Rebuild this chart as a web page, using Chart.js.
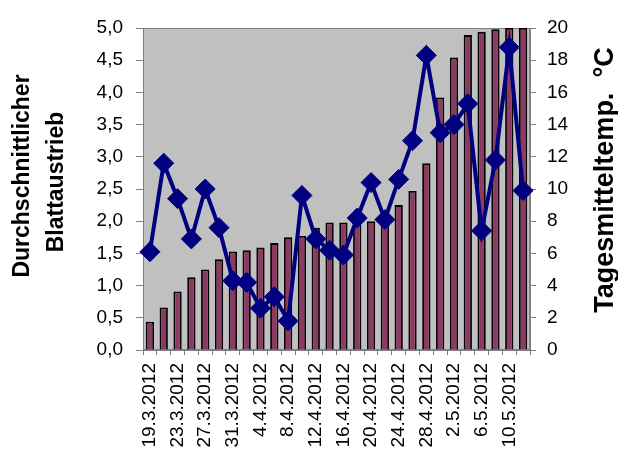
<!DOCTYPE html>
<html>
<head>
<meta charset="utf-8">
<script src="https://cdn.jsdelivr.net/npm/chart.js@4.4.1/dist/chart.umd.min.js"></script>
<style>
  html, body { margin: 0; padding: 0; background: #fff; }
</style>
</head>
<body>
<canvas id="chart" width="618" height="459"></canvas>
<script>
// categories: every second day
const dates = [
  "19.3.2012", "21.3.2012", "23.3.2012", "25.3.2012", "27.3.2012", "29.3.2012", "31.3.2012",
  "2.4.2012", "4.4.2012", "6.4.2012", "8.4.2012", "10.4.2012", "12.4.2012", "14.4.2012",
  "16.4.2012", "18.4.2012", "20.4.2012", "22.4.2012", "24.4.2012", "26.4.2012", "28.4.2012",
  "30.4.2012", "2.5.2012", "4.5.2012", "6.5.2012", "8.5.2012", "10.5.2012", "12.5.2012"
];

// average leaf sprouting (left axis)
const blattaustrieb = [
  0.44, 0.66, 0.91, 1.13, 1.25, 1.41, 1.53,
  1.55, 1.59, 1.66, 1.75, 1.77, 1.90, 1.98,
  1.98, 1.98, 2.00, 2.05, 2.25, 2.47, 2.90,
  3.92, 4.54, 4.89, 4.94, 4.98, 5.00, 5.00
];

// daily mean temperature in °C (right axis)
const tagesmitteltemp = [
  6.1, 11.6, 9.4, 6.9, 10.0, 7.6, 4.3,
  4.2, 2.6, 3.3, 1.8, 9.6, 6.9, 6.2,
  5.9, 8.2, 10.4, 8.1, 10.6, 13.0, 18.3,
  13.5, 14.0, 15.3, 7.4, 11.8, 18.8, 9.9
];

const leftTitle = ["Durchschnittlicher", "Blattaustrieb"];
const rightTitle = "Tagesmitteltemp.  °C";

const fontFamily = "Arial, 'Liberation Sans', sans-serif";
const tickFont = { family: fontFamily, size: 19 };

// gray plot area with a thin frame
const plotBg = {
  id: "plotBg",
  beforeDraw(chart) {
    const { ctx, chartArea: a } = chart;
    ctx.save();
    ctx.fillStyle = "#c0c0c0";
    ctx.fillRect(a.left, a.top, a.width, a.height);
    ctx.strokeStyle = "#808080";
    ctx.lineWidth = 1;
    ctx.strokeRect(a.left + 0.5, a.top + 0.5, a.width - 1, a.height - 1);
    ctx.restore();
  }
};

// both axis titles read bottom-to-top, like the Excel original
const axisTitles = {
  id: "axisTitles",
  afterDraw(chart) {
    const ctx = chart.ctx;
    ctx.save();
    ctx.fillStyle = "#000";
    ctx.textAlign = "center";
    ctx.textBaseline = "middle";
    ctx.font = "bold 23px " + fontFamily;
    [[23, 176], [57, 182]].forEach(([x, y], i) => {
      ctx.save();
      ctx.translate(x, y);
      ctx.rotate(-Math.PI / 2);
      ctx.fillText(leftTitle[i], 0, 0);
      ctx.restore();
    });
    ctx.font = "bold 27px " + fontFamily;
    ctx.translate(606, 180);
    ctx.rotate(-Math.PI / 2);
    ctx.fillText(rightTitle, 0, 0);
    ctx.restore();
  }
};

new Chart(document.getElementById("chart"), {
  data: {
    labels: dates,
    datasets: [
      {
        type: "line",
        label: "Tagesmitteltemp. °C",
        data: tagesmitteltemp,
        yAxisID: "y1",
        order: 0,
        borderColor: "#000080",
        backgroundColor: "#000080",
        borderWidth: 4,
        tension: 0,
        pointStyle: "rectRot",
        pointRadius: 10,
        pointBorderWidth: 1,
        pointBackgroundColor: "#000080",
        pointBorderColor: "#000080"
      },
      {
        type: "bar",
        label: "Durchschnittlicher Blattaustrieb",
        data: blattaustrieb,
        yAxisID: "y",
        order: 1,
        backgroundColor: "#8c3a62",
        borderColor: "#000000",
        borderWidth: 1.8,
        categoryPercentage: 1,
        barPercentage: 0.6
      }
    ]
  },
  options: {
    responsive: false,
    animation: false,
    layout: { padding: { top: 28, left: 0, right: 0, bottom: 0 } },
    plugins: {
      legend: { display: false },
      tooltip: { enabled: false }
    },
    scales: {
      x: {
        afterFit: (s) => { s.height = 109; },
        grid: { drawOnChartArea: false, offset: true, tickLength: 5, color: "#808080" },
        border: { color: "#808080" },
        ticks: {
          autoSkip: false,
          minRotation: 90,
          maxRotation: 90,
          padding: 8,
          color: "#000",
          font: tickFont,
          callback: function (value, index) {
            return index % 2 === 0 ? this.getLabelForValue(value) : "";
          }
        }
      },
      y: {
        position: "left",
        min: 0,
        max: 5,
        afterFit: (s) => { s.width = 143; },
        grid: { drawOnChartArea: false, tickLength: 7, color: "#808080" },
        border: { color: "#808080" },
        ticks: {
          stepSize: 0.5,
          padding: 13,
          color: "#000",
          font: tickFont,
          callback: (v) => v.toFixed(1).replace(".", ",")
        }
      },
      y1: {
        position: "right",
        min: 0,
        max: 20,
        afterFit: (s) => { s.width = 88; },
        grid: { drawOnChartArea: false, tickLength: 6, color: "#808080" },
        border: { color: "#808080" },
        ticks: {
          stepSize: 2,
          padding: 11,
          color: "#000",
          font: tickFont
        }
      }
    }
  },
  plugins: [plotBg, axisTitles]
});
</script>
</body>
</html>
